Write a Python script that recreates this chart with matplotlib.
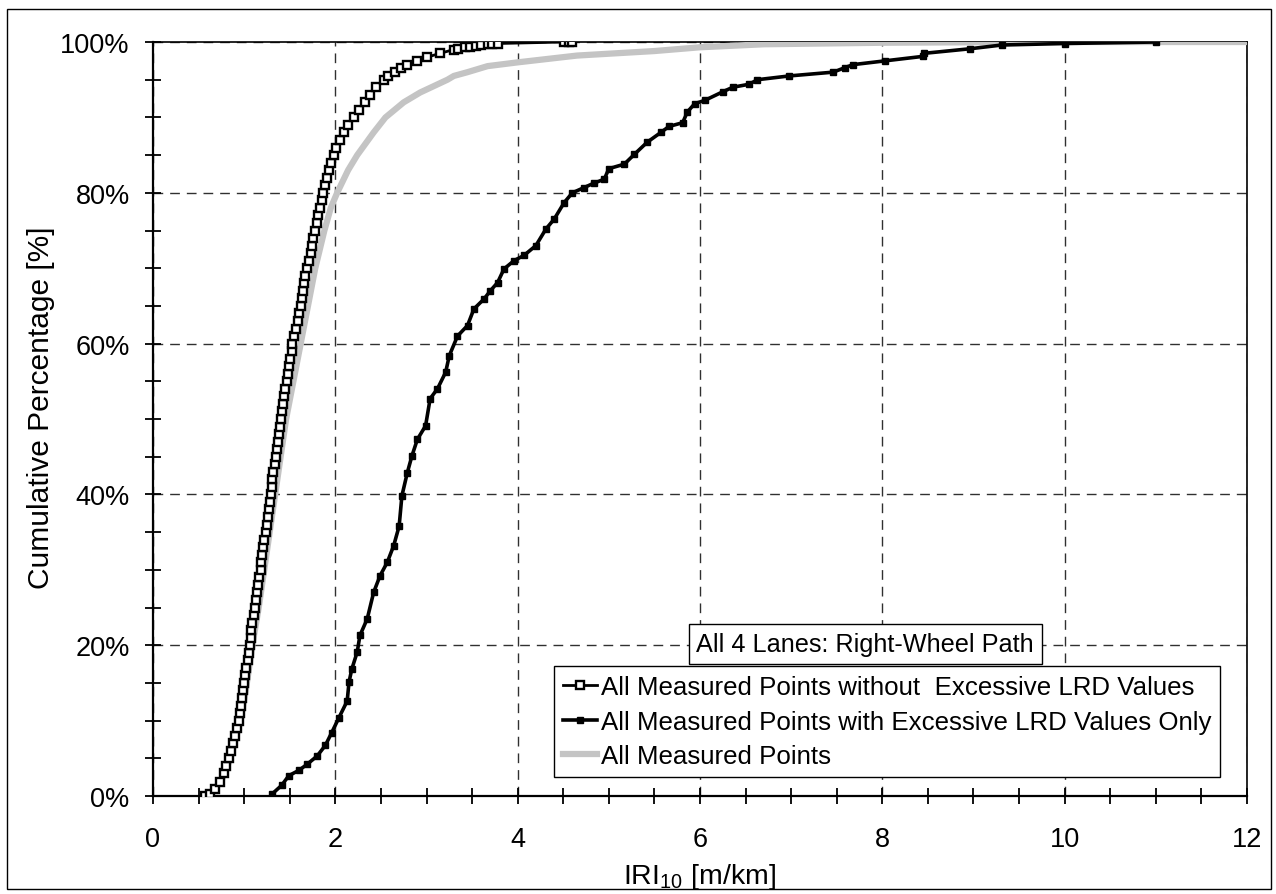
import matplotlib
matplotlib.use("Agg")
from matplotlib import pyplot as plt
from matplotlib.ticker import MultipleLocator, PercentFormatter
from matplotlib.patches import Rectangle

plt.rcParams['font.family'] = ['Liberation Sans', 'DejaVu Sans']
plt.rcParams['mathtext.fontset'] = 'custom'
plt.rcParams['mathtext.rm'] = 'Liberation Sans'

# without excessive LRD values (open squares)
pct_without = [0, 0.3, 0.9, 1.8, 3, 4, 5, 6, 7, 8, 9, 10, 11, 12, 13, 14, 15, 16, 17, 18,
               19, 20, 21, 22, 23, 24, 25, 26, 27, 28, 29, 30, 31, 32, 33, 34, 35, 36, 37,
               38, 39, 40, 41, 42, 43, 44, 45, 46, 47, 48, 49, 50, 51, 52, 53, 54, 55, 56,
               57, 58, 59, 60, 61, 62, 63, 64, 65, 66, 67, 68, 69, 70, 71, 72, 73, 74, 75,
               76, 77, 78, 79, 80, 81, 82, 83, 84, 85, 86, 87, 88, 89, 90, 91, 92, 93, 94,
               95, 95.5, 96, 96.5, 97, 97.5, 98, 98.5, 99, 99.1, 99.3, 99.4, 99.5, 99.6,
               99.7, 99.75, 99.8, 100, 100, 100]
iri_without = [0.57, 0.62, 0.68, 0.74, 0.78, 0.80, 0.83, 0.86, 0.88, 0.90, 0.92, 0.94, 0.95,
               0.97, 0.98, 0.99, 1.00, 1.01, 1.02, 1.04, 1.05, 1.06, 1.07, 1.08, 1.09, 1.11,
               1.12, 1.13, 1.14, 1.15, 1.16, 1.18, 1.19, 1.20, 1.21, 1.22, 1.24, 1.25, 1.26,
               1.27, 1.28, 1.29, 1.30, 1.31, 1.32, 1.34, 1.35, 1.36, 1.37, 1.38, 1.39, 1.40,
               1.41, 1.43, 1.44, 1.45, 1.47, 1.48, 1.49, 1.50, 1.52, 1.53, 1.55, 1.57, 1.59,
               1.60, 1.62, 1.63, 1.64, 1.66, 1.67, 1.69, 1.71, 1.73, 1.74, 1.76, 1.78, 1.80,
               1.81, 1.83, 1.85, 1.87, 1.89, 1.91, 1.93, 1.95, 1.98, 2.01, 2.05, 2.09, 2.14,
               2.20, 2.26, 2.32, 2.38, 2.45, 2.53, 2.58, 2.65, 2.72, 2.79, 2.90, 3.01, 3.15,
               3.30, 3.35, 3.42, 3.48, 3.54, 3.60, 3.68, 3.72, 3.78, 4.51, 4.56, 4.60]

# with excessive LRD values only (filled squares)
pct_with = [0.2, 1.4, 2.7, 3.4, 4.2, 5.3, 6.7, 8.4, 10.4, 12.6, 15.1, 16.8, 19.1, 21.3, 23.5,
            27.0, 29.2, 31.0, 33.2, 35.8, 39.8, 42.9, 45.1, 47.3, 49.1, 52.7, 54.0, 56.2,
            58.4, 61.0, 62.4, 64.6, 65.9, 67.0, 68.1, 69.9, 71.0, 71.7, 73.0, 75.2, 76.5,
            78.7, 80.0, 80.7, 81.3, 81.8, 83.2, 83.8, 85.1, 86.7, 88.0, 88.8, 89.3, 90.7,
            91.8, 92.3, 93.4, 94.0, 94.4, 95.0, 95.5, 96.0, 96.6, 97.0, 97.5, 98.1, 98.5,
            99.1, 99.6, 99.8, 100]
iri_with = [1.30, 1.41, 1.49, 1.60, 1.69, 1.80, 1.89, 1.96, 2.04, 2.13, 2.15, 2.18, 2.24, 2.27,
            2.35, 2.42, 2.49, 2.57, 2.64, 2.70, 2.73, 2.79, 2.84, 2.90, 2.99, 3.04, 3.12,
            3.21, 3.25, 3.34, 3.45, 3.52, 3.63, 3.70, 3.78, 3.85, 3.96, 4.07, 4.20, 4.31,
            4.40, 4.51, 4.60, 4.73, 4.84, 4.95, 5.00, 5.17, 5.28, 5.42, 5.57, 5.66, 5.81,
            5.86, 5.94, 6.06, 6.25, 6.36, 6.54, 6.63, 6.98, 7.46, 7.59, 7.68, 8.03, 8.45,
            8.46, 8.96, 9.31, 10.0, 11.0]

# all measured points (grey)
pct_all = [0, 2, 5, 10, 15, 20, 25, 30, 35, 40, 45, 50, 55, 60, 65, 70, 75, 78, 80, 83, 85,
           88, 90, 92, 93.3, 95, 95.5, 96, 96.8, 97.3, 98.2, 98.8, 99.3, 99.7, 99.9, 100, 100]
iri_all = [0.60, 0.75, 0.85, 0.96, 1.03, 1.09, 1.16, 1.22, 1.28, 1.34, 1.40, 1.46, 1.54, 1.62,
           1.70, 1.78, 1.88, 1.95, 2.02, 2.14, 2.24, 2.42, 2.55, 2.75, 2.93, 3.23, 3.30, 3.45,
           3.67, 4.00, 4.65, 5.50, 6.00, 6.70, 8.00, 9.50, 12.0]

labels = ["All Measured Points without  Excessive LRD Values",
          "All Measured Points with Excessive LRD Values Only",
          "All Measured Points"]

fig = plt.figure(figsize=(12.76, 8.95), dpi=100)
ax = fig.add_axes([153/1276, 1 - 797/895, 1094/1276, 754/895])

ax.plot(iri_without, pct_without, color="black", lw=2, marker="s", ms=6,
        mfc="white", mec="black", mew=1.7, label=labels[0], zorder=4)
ax.plot(iri_with, pct_with, color="black", lw=2.6, marker="s", ms=5,
        mfc="black", mec="black", label=labels[1], zorder=5)
ax.plot(iri_all, pct_all, color="#c4c4c4", lw=4.5, label=labels[2], zorder=3,
        solid_joinstyle="round")

ax.set_xlim(0, 12)
ax.set_ylim(0, 100)
ax.xaxis.set_major_locator(MultipleLocator(2))
ax.xaxis.set_minor_locator(MultipleLocator(0.5))
ax.yaxis.set_major_locator(MultipleLocator(20))
ax.yaxis.set_minor_locator(MultipleLocator(5))
ax.yaxis.set_major_formatter(PercentFormatter(xmax=100, decimals=0))

ax.tick_params(which="both", direction="inout", length=11.5, width=1.3, labelsize=19.5)
ax.tick_params(axis="x", which="major", pad=16)
ax.tick_params(axis="y", which="major", pad=11)

ax.grid(True, which="major", ls=(0, (7, 5)), color="#303030", lw=1)
ax.set_axisbelow(True)

ax.spines["left"].set_linewidth(1.6)
ax.spines["bottom"].set_linewidth(1.6)
ax.spines["top"].set_linewidth(1.2)
ax.spines["right"].set_linewidth(1.2)

ax.set_xlabel("IRI$_{\\mathregular{10}}$ [m/km]", fontsize=20.5, labelpad=6)
ax.set_ylabel("Cumulative Percentage [%]", fontsize=21.5)
ax.yaxis.set_label_coords(-0.09, 0.516)

ax.text(0.651, 0.2016, "All 4 Lanes: Right-Wheel Path", transform=ax.transAxes,
        ha="center", va="center", fontsize=18.2,
        bbox=dict(boxstyle="square,pad=0.3", fc="white", ec="black", lw=1))

leg = ax.legend(loc="lower right", bbox_to_anchor=(0.9754, 0.025), fontsize=18.6,
                frameon=True, fancybox=False, edgecolor="black", framealpha=1,
                handlelength=1.3, handletextpad=0.15, labelspacing=0.4,
                borderpad=0.35, borderaxespad=0, numpoints=1)
leg.get_frame().set_linewidth(1)

fig.patches.append(Rectangle((7/1276, 5/895), 1264/1276, 880/895, transform=fig.transFigure,
                             fill=False, ec="black", lw=1))

fig.savefig("out.png", dpi=100)
